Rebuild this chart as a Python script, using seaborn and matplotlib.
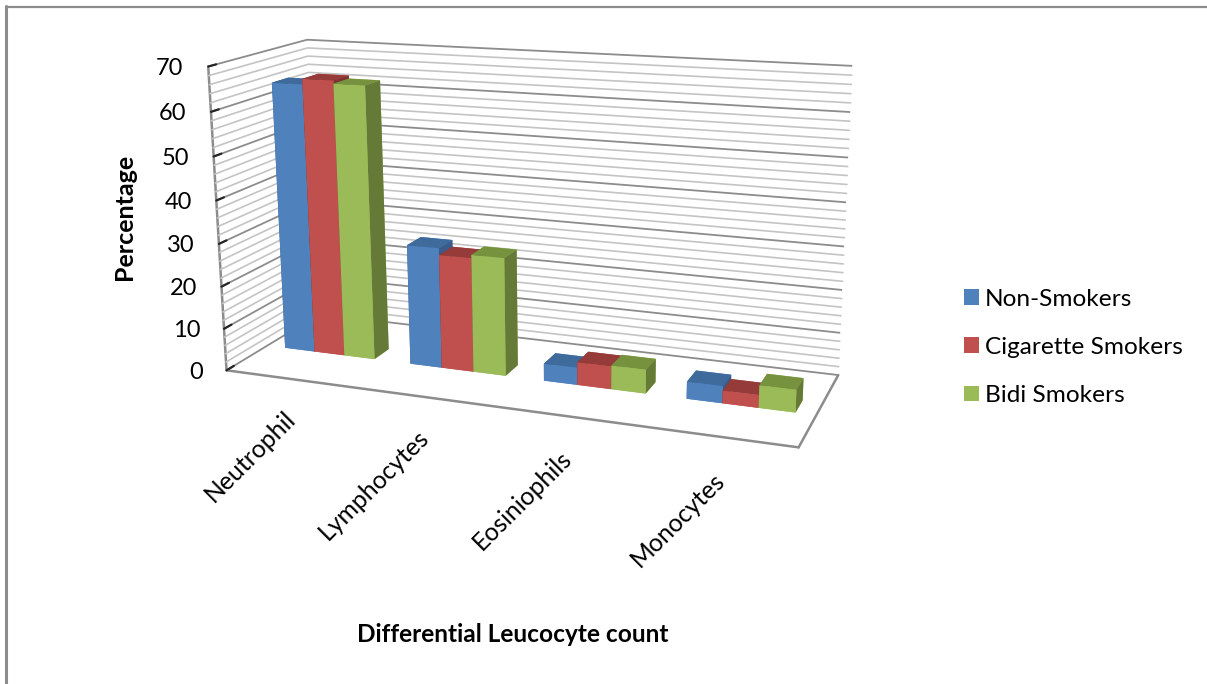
import matplotlib
matplotlib.use("Agg")
import matplotlib.pyplot as plt
from matplotlib.lines import Line2D
from matplotlib.patches import Patch
import seaborn as sns

# Differential leucocyte count (%) by smoking status
categories = ["Neutrophil", "Lymphocytes", "Eosiniophils", "Monocytes"]
non_smokers = [63.8, 28.4, 4.0, 3.9]
cigarette_smokers = [65.1, 26.8, 5.3, 2.9]
bidi_smokers = [64.4, 27.6, 5.5, 5.1]
series_names = ["Non-Smokers", "Cigarette Smokers", "Bidi Smokers"]
value_ticks = [0, 10, 20, 30, 40, 50, 60, 70]
fine_ticks = [z for z in range(0, 70, 2) if z % 10]

sns.set_theme(style="white")
plt.rcParams["font.family"] = ["Lato", "DejaVu Sans"]

W, H = 1207, 684
GRID_DARK = "#8c8c8c"
GRID_LIGHT = "#c4c4c4"
front = sns.color_palette(["#4F81BD", "#C0504D", "#9BBB59"])
top = ["#3F6A9C", "#953B39", "#76923F"]
side = ["#385D8A", "#7F3331", "#667A38"]

fig = plt.figure(figsize=(W / 100, H / 100), dpi=100, facecolor="white")
S = 682.75
ax = fig.add_axes([177.95 / W, 110.03 / H, S / W, S / H], projection="3d",
                  computed_zorder=False)
ax.set_xlim(0, 4)
ax.set_ylim(0, 1)
ax.set_zlim(0, 70)
ax.view_init(14.6312, -68.8585, 0.4612)
ax.set_proj_type("persp", focal_length=0.4214)
ax.set_box_aspect((4, 1.3405, 2.1263))

# Walls carry only grid lines; no fill
for axis in (ax.xaxis, ax.yaxis, ax.zaxis):
    axis.pane.set_facecolor((1, 1, 1, 0))
    axis.pane.set_edgecolor((1, 1, 1, 0))
    axis.line.set_color(GRID_DARK)
    axis.line.set_linewidth(1.8)

ax.set_xticks([i + 0.5 for i in range(len(categories))])
ax.set_xticklabels(categories, rotation=45, ha="right", va="top",
                   rotation_mode="anchor", fontsize=17.8, color="black")
ax.set_yticks([])
ax.set_zticks(value_ticks)
ax.set_zticklabels([str(v) for v in value_ticks], fontsize=17, color="black",
                   ha="right", va="center_baseline")
ax.zaxis.set_ticks_position("lower")
ax.grid(True)
ax.xaxis._axinfo["grid"].update(color=(1, 1, 1, 0), linewidth=0)
ax.xaxis._axinfo["tick"].update(inward_factor=0, outward_factor=0)
ax.zaxis._axinfo["grid"].update(color=GRID_DARK, linewidth=1.3)
ax.zaxis._axinfo["tick"].update(inward_factor=0, outward_factor=0.9,
                                linewidth={True: 1.6, False: 1.0}, color=GRID_DARK)
ax.tick_params(axis="x", pad=12, length=0)
ax.tick_params(axis="z", pad=2)

for z in fine_ticks:
    ax.plot([0, 0, 4], [0, 1, 1], [z, z, z], color=GRID_LIGHT, lw=1.2, zorder=1)

# Clustered prisms: front faces sit mid-way along the floor's depth
BAR_W = 0.24
GROUP_PAD = 0.147
Y0, DEPTH = 0.415, 0.17
order = 2
for i in range(len(categories)):
    for j, values in enumerate((non_smokers, cigarette_smokers, bidi_smokers)):
        faces = [front[j], top[j], front[j], front[j], side[j], side[j]]
        bar = ax.bar3d(i + GROUP_PAD + j * BAR_W, Y0, 0, BAR_W, DEPTH, values[i],
                       color=faces, shade=False, linewidth=0, zorder=order)
        order += 1

handles = [Patch(facecolor=c, edgecolor="none") for c in front]
fig.legend(handles, series_names, loc="upper left",
           bbox_to_anchor=(959 / W, 1 - 284 / H), frameon=False, fontsize=17.6,
           handlelength=0.62, handleheight=0.62, handletextpad=0.25, labelspacing=1.11,
           borderpad=0.2, borderaxespad=0, labelcolor="black")

fig.text(513 / W, 1 - 634 / H, "Differential Leucocyte count", fontsize=17.6,
         fontweight="bold", ha="center", va="center", color="black")
fig.text(124 / W, 1 - 217 / H, "Percentage", fontsize=18, fontweight="bold",
         rotation=90, ha="center", va="center", color="black")

# Thin frame running along the top and left of the canvas
fig.add_artist(Line2D([6 / W, 1], [1 - 6.5 / H] * 2, transform=fig.transFigure,
                      color=GRID_DARK, lw=1.6))
fig.add_artist(Line2D([5.5 / W] * 2, [0, 1 - 6 / H], transform=fig.transFigure,
                      color=GRID_DARK, lw=2.2))

fig.savefig("out.png", dpi=100)
